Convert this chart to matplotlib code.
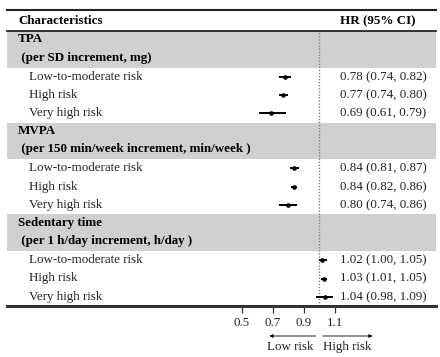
import matplotlib.pyplot as plt
from matplotlib.lines import Line2D

plt.rcParams['font.family'] = ['Liberation Serif', 'DejaVu Serif']

# ---------- data ----------
groups = ["TPA", "MVPA", "Sedentary time"]
units = [" (per SD increment, mg)",
         " (per 150 min/week increment, min/week )",
         " (per 1 h/day increment, h/day )"]
risk_levels = ["Low-to-moderate risk", "High risk", "Very high risk"]
hr = [[0.78, 0.77, 0.69], [0.84, 0.84, 0.80], [1.02, 1.03, 1.04]]
ci_low = [[0.74, 0.74, 0.61], [0.81, 0.82, 0.74], [1.00, 1.01, 0.98]]
ci_high = [[0.82, 0.80, 0.79], [0.87, 0.86, 0.86], [1.05, 1.05, 1.09]]
xticks = [0.5, 0.7, 0.9, 1.1]

W, H = 440, 357
fig = plt.figure(figsize=(W / 100, H / 100), dpi=100)

# table region in pixels
left, right, top, bottom = 7, 436, 31, 306
x_ref = 319          # pixel of HR = 1.0
px_per_unit = 155    # pixels per 1.0 HR
n_rows = 15

ax = fig.add_axes([left / W, 1 - bottom / H, (right - left) / W, (bottom - top) / H])
ax.set_xlim(1 + (left - x_ref) / px_per_unit, 1 + (right - x_ref) / px_per_unit)
ax.set_ylim(n_rows, 0)
ax.patch.set_alpha(0)


def fx(px):
    # pixel x -> axes fraction
    return (px - left) / (right - left)


fs = 9.4
ytr = ax.get_yaxis_transform()
row = 0
for g in range(3):
    ax.axhspan(row, row + 2, color="#d0d0d0", zorder=0, lw=0)
    ax.text(fx(18), row + 0.45, groups[g], transform=ytr, fontsize=fs,
            fontweight="bold", va="center", ha="left")
    ax.text(fx(18), row + 1.45, units[g], transform=ytr, fontsize=fs,
            fontweight="bold", va="center", ha="left")
    row += 2
    for k in range(3):
        y = row + 0.5
        ax.text(fx(29), y, risk_levels[k], transform=ytr, fontsize=fs,
                va="center", ha="left", color="#222222")
        ax.plot([ci_low[g][k], ci_high[g][k]], [y, y], color="black", lw=1.4,
                solid_capstyle="butt", zorder=3)
        ax.plot(hr[g][k], y, marker="o", ms=2.3, color="black", zorder=4)
        ax.text(fx(340), y, "%.2f (%.2f, %.2f)" % (hr[g][k], ci_low[g][k], ci_high[g][k]),
                transform=ytr, fontsize=fs, va="center", ha="left", color="#222222")
        row += 1

# reference line
ax.axvline(1.0, color="#d05a78", lw=1.0, ls=(0, (1, 1.2)), zorder=2)

# spines / axis
for s in ["left", "right"]:
    ax.spines[s].set_visible(False)
ax.spines["top"].set_linewidth(1.3)
ax.spines["top"].set_color("#222222")
ax.spines["bottom"].set_linewidth(2.2)
ax.spines["bottom"].set_color("#333333")
ax.set_yticks([])
ax.set_xticks(xticks)
ax.set_xticklabels(["%.1f" % t for t in xticks], fontsize=fs, color="#222222")
ax.tick_params(axis="x", length=5, width=0.9, pad=3, color="#333333")

# arrows and risk labels
xtr = ax.get_xaxis_transform()
y_arr = (bottom - 336) / (bottom - top)
y_lab = (bottom - 347) / (bottom - top)
ax.annotate("", xy=(0.68, y_arr), xytext=(0.98, y_arr), xycoords=xtr,
            arrowprops=dict(arrowstyle="-|>", color="black", lw=0.6,
                            mutation_scale=5, shrinkA=0, shrinkB=0),
            annotation_clip=False)
ax.annotate("", xy=(1.345, y_arr), xytext=(1.025, y_arr), xycoords=xtr,
            arrowprops=dict(arrowstyle="-|>", color="black", lw=0.6,
                            mutation_scale=5, shrinkA=0, shrinkB=0),
            annotation_clip=False)
ax.text(0.813, y_lab, "Low risk", transform=xtr, fontsize=fs, ha="center", va="center",
        color="#222222", clip_on=False)
ax.text(1.18, y_lab, "High risk", transform=xtr, fontsize=fs, ha="center", va="center",
        color="#222222", clip_on=False)

# header
fig.add_artist(Line2D([left / W, right / W], [1 - 10 / H, 1 - 10 / H],
                      color="#222222", lw=1.5))
fig.text(18 / W, 1 - 21 / H, "Characteristics", fontsize=fs, fontweight="bold",
         va="center", ha="left")
fig.text(340 / W, 1 - 21 / H, "HR (95% CI)", fontsize=fs, fontweight="bold",
         va="center", ha="left")

fig.savefig("out.png", dpi=100, facecolor="white")
